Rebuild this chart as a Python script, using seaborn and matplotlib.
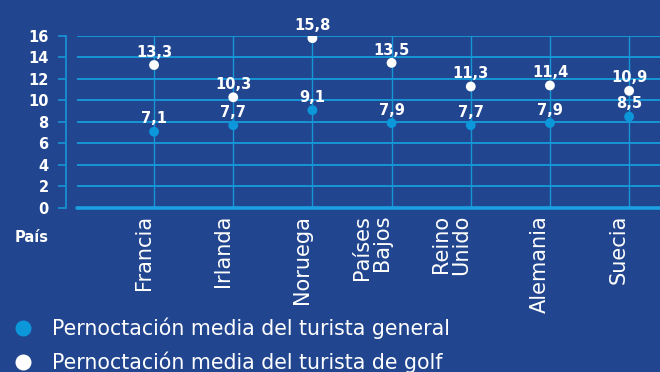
import matplotlib
matplotlib.use("Agg")
import matplotlib.pyplot as plt
from matplotlib.lines import Line2D
import seaborn as sns
import pandas as pd

# Data
paises = ["Francia", "Irlanda", "Noruega", "Países\nBajos", "Reino\nUnido", "Alemania", "Suecia"]
general = [7.1, 7.7, 9.1, 7.9, 7.7, 7.9, 8.5]
golf = [13.3, 10.3, 15.8, 13.5, 11.3, 11.4, 10.9]
y_ticks = [0, 2, 4, 6, 8, 10, 12, 14, 16]
serie_general = "Pernoctación media del turista general"
serie_golf = "Pernoctación media del turista de golf"
eje_x = "País"

# Colours
BG = "#21468F"
GRID = "#1796D6"
BASE = "#1BA0E2"
BLUE = "#0B97DA"
WHITE = "#FFFFFF"

sns.set_theme(style="white")
plt.rcParams["font.family"] = ["DejaVu Sans"]

df = pd.DataFrame({eje_x: paises, serie_general: general, serie_golf: golf})
largo = df.melt(id_vars=eje_x, var_name="Serie", value_name="Noches")

W, H = 660, 372
fig = plt.figure(figsize=(W / 100, H / 100), dpi=100, facecolor=BG)
ax = fig.add_axes([77 / W, 1 - 208 / H, 583 / W, 172 / H])
ax.set_facecolor(BG)

sns.scatterplot(
    data=largo, x=eje_x, y="Noches", hue="Serie",
    palette={serie_general: BLUE, serie_golf: WHITE},
    s=50, linewidth=0, legend=False, ax=ax, zorder=5,
)

# Value labels above each point
for serie, valores in ((serie_general, general), (serie_golf, golf)):
    for i, v in enumerate(valores):
        ax.annotate(f"{v:.1f}".replace(".", ","), (i, v), xytext=(0, 6),
                    textcoords="offset points", ha="center", va="baseline",
                    color=WHITE, fontsize=10.5, fontweight="bold", zorder=6)

ax.set_xlim(-0.973, 6.39)
ax.set_ylim(0, 16)
ax.set_yticks(y_ticks)
ax.set_xlabel("")
ax.set_ylabel("")

# Grid
ax.grid(True, axis="y", color=GRID, lw=1.4, zorder=1)
ax.grid(True, axis="x", color=GRID, lw=1.0, zorder=1)
for gl in ax.get_ygridlines() + ax.get_xgridlines():
    gl.set_clip_on(False)
ax.axhline(0, color=BASE, lw=2.6, zorder=3, clip_on=False)
ax.set_axisbelow(True)

# Spines
for side in ("top", "right", "bottom"):
    ax.spines[side].set_visible(False)
ax.spines["left"].set_position(("outward", 8))
ax.spines["left"].set_color(GRID)
ax.spines["left"].set_linewidth(1.2)

ax.tick_params(axis="y", left=True, colors=GRID, length=6, width=1.2,
               labelcolor=WHITE, labelsize=10.5, pad=6.5)
for t in ax.get_yticklabels():
    t.set_fontweight("bold")

ax.tick_params(axis="x", length=0, labelcolor=WHITE, labelsize=15, pad=5)
for t in ax.get_xticklabels():
    t.set_rotation(90)
    t.set_ha("right")
    t.set_va("top")
    t.set_multialignment("right")
    t.set_linespacing(1.0)

fig.text(15 / W, 1 - 238 / H, eje_x, color=WHITE, fontsize=10.5,
         fontweight="bold", va="center", ha="left")

# Legend
handles = [
    Line2D([], [], ls="none", marker="o", ms=10.5, mfc=BLUE, mec=BLUE, label=serie_general),
    Line2D([], [], ls="none", marker="o", ms=10.5, mfc=WHITE, mec=WHITE, label=serie_golf),
]
fig.legend(handles=handles, loc="lower left", bbox_to_anchor=(0.0, -0.036),
           frameon=False, fontsize=14.8, labelcolor=WHITE, handlelength=1.0,
           handletextpad=0.95, labelspacing=0.6, borderaxespad=0.2)

fig.savefig("out.png", dpi=100, facecolor=BG)
